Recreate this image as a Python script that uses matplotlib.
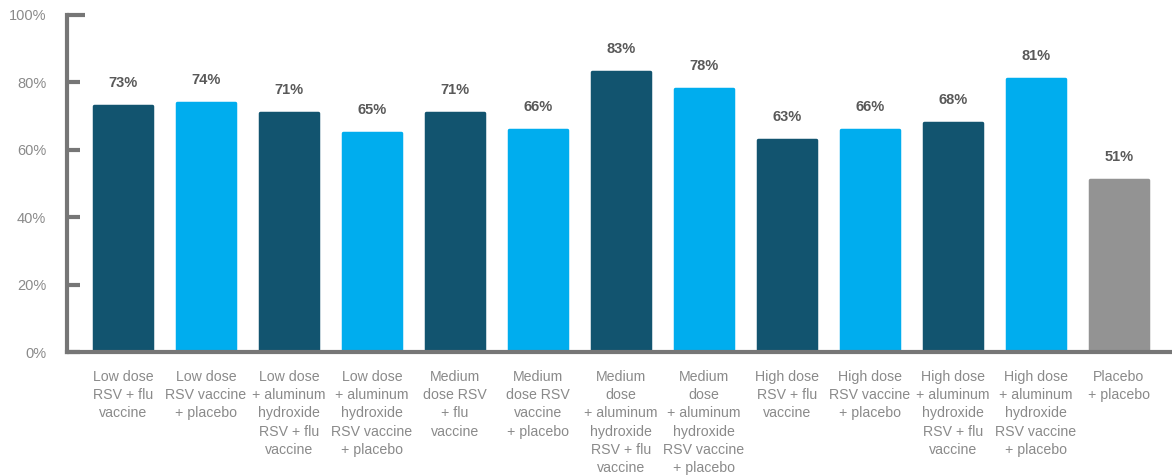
import matplotlib
matplotlib.use("Agg")
import matplotlib.pyplot as plt
from matplotlib.ticker import FixedLocator, FuncFormatter

# Share of participants by study group (%)
groups = [
    "Low dose\nRSV + flu\nvaccine",
    "Low dose\nRSV vaccine\n+ placebo",
    "Low dose\n+ aluminum\nhydroxide\nRSV + flu\nvaccine",
    "Low dose\n+ aluminum\nhydroxide\nRSV vaccine\n+ placebo",
    "Medium\ndose RSV\n+ flu\nvaccine",
    "Medium\ndose RSV\nvaccine\n+ placebo",
    "Medium\ndose\n+ aluminum\nhydroxide\nRSV + flu\nvaccine",
    "Medium\ndose\n+ aluminum\nhydroxide\nRSV vaccine\n+ placebo",
    "High dose\nRSV + flu\nvaccine",
    "High dose\nRSV vaccine\n+ placebo",
    "High dose\n+ aluminum\nhydroxide\nRSV + flu\nvaccine",
    "High dose\n+ aluminum\nhydroxide\nRSV vaccine\n+ placebo",
    "Placebo\n+ placebo",
]
values = [73, 74, 71, 65, 71, 66, 83, 78, 63, 66, 68, 81, 51]
arm_type = ["flu", "placebo", "flu", "placebo", "flu", "placebo",
            "flu", "placebo", "flu", "placebo", "flu", "placebo", "control"]
y_ticks = [0, 20, 40, 60, 80, 100]

palette = {"flu": "#12546f", "placebo": "#00adee", "control": "#939393"}
axis_grey = "#767676"
text_grey = "#8a8a8a"
value_grey = "#595959"

plt.rcParams["font.family"] = ["Liberation Sans", "DejaVu Sans"]

fig = plt.figure(figsize=(11.72, 4.76), dpi=100)
ax = fig.add_axes([67 / 1172, 124 / 476, 1 - 67 / 1172, (352 - 15) / 476])

x = list(range(len(values)))
colors = [palette[t] for t in arm_type]
bars = ax.bar(x, values, width=0.70, color=colors, edgecolor=colors,
              linewidth=2.5, joinstyle="round", zorder=2)

for rect, v in zip(bars, values):
    ax.annotate(f"{v}%", (rect.get_x() + rect.get_width() / 2, v),
                xytext=(0, 11.5), textcoords="offset points",
                ha="center", va="bottom", fontsize=10.5, fontweight="bold",
                color=value_grey)

ax.set_xlim(-0.675, len(values) - 1 + 0.64)
ax.set_ylim(0, 100)

ax.yaxis.set_major_locator(FixedLocator(y_ticks))
ax.yaxis.set_major_formatter(FuncFormatter(lambda v, _: f"{v:.0f}%"))
ax.tick_params(axis="y", direction="in", length=9, width=3, color=axis_grey,
               labelsize=10.5, labelcolor=text_grey, pad=15)
top_tick = ax.yaxis.get_major_ticks()[-1]
top_tick.tick1line.set_markersize(13)

ax.set_xticks(x)
ax.set_xticklabels(groups, fontsize=10.2, color=text_grey, linespacing=1.38,
                   va="top")
ax.tick_params(axis="x", length=0, pad=13)

for side in ("top", "right"):
    ax.spines[side].set_visible(False)
for side in ("left", "bottom"):
    ax.spines[side].set_color(axis_grey)
    ax.spines[side].set_linewidth(3)
ax.spines["left"].set_capstyle("projecting")

fig.savefig("out.png", dpi=100)
